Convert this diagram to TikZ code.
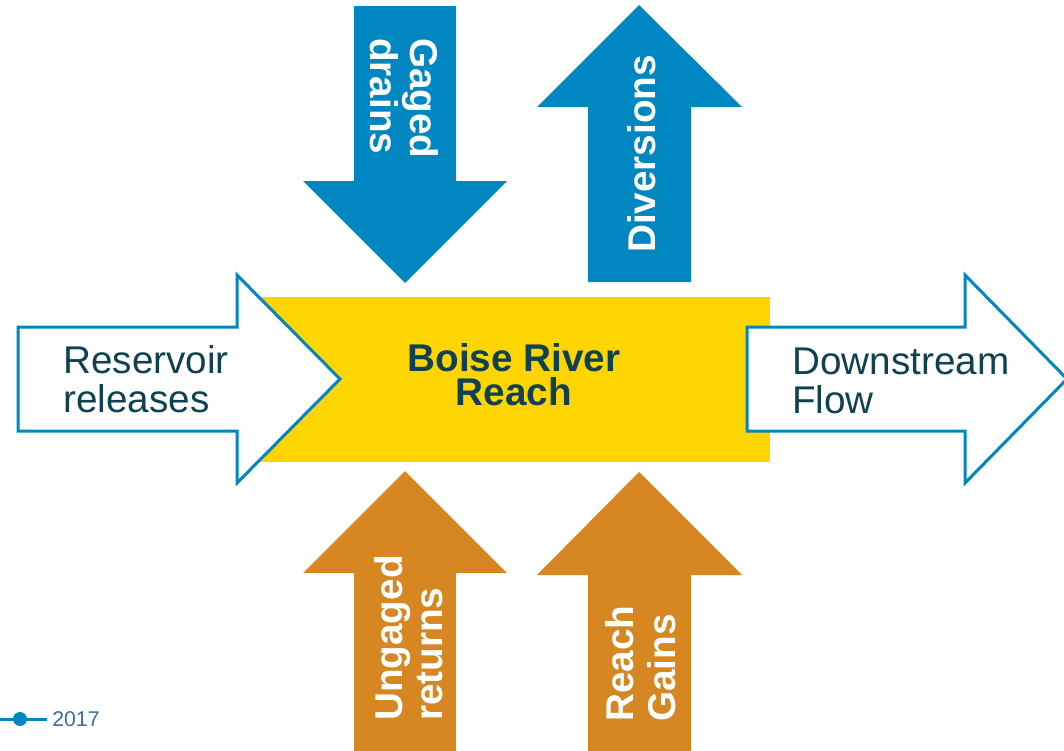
\documentclass[tikz,border=0pt]{standalone}
\usepackage{fontspec}
\setmainfont{Liberation Sans}
\definecolor{flowblue}{HTML}{0087C1}
\definecolor{floworange}{HTML}{D68721}
\definecolor{reachyellow}{HTML}{FFD500}
\definecolor{darkteal}{HTML}{0F4151}
\definecolor{legendblue}{HTML}{3B6EA5}
\begin{document}
\begin{tikzpicture}[x=0.75pt,y=-0.75pt,
  outflow/.style={draw=flowblue,line width=2.25pt,fill=white,line join=miter},
  bluearrow/.style={fill=flowblue},
  orangearrow/.style={fill=floworange},
  plainlabel/.style={inner sep=0pt,align=left,text=darkteal,
    font=\fontsize{29}{29}\selectfont},
  arrowlabel/.style={inner sep=0pt,align=left,text=white,
    font=\fontsize{29}{30}\selectfont\bfseries},
  reachlabel/.style={inner sep=0pt,align=center,text=darkteal,
    font=\fontsize{29}{25}\selectfont\bfseries}]
\useasboundingbox (0,0) rectangle (1064,750);

% central reach block
\fill[reachyellow] (260,297) rectangle (770,462);

% inflow from the reservoir (left) and outflow downstream (right)
\path[outflow] (18,327) -- (237,327) -- (237,275) -- (340,379) -- (237,483)
  -- (237,431) -- (18,431) -- cycle;
\path[outflow] (747,327) -- (965,327) -- (965,275) -- (1067,379) -- (965,483)
  -- (965,431) -- (747,431) -- cycle;

% gaged drains entering from above
\path[bluearrow] (354,6) -- (456,6) -- (456,181) -- (507,181) -- (405,283)
  -- (303,181) -- (354,181) -- cycle;
% diversions leaving upward
\path[bluearrow] (588,282) -- (588,107) -- (537,107) -- (639,5) -- (742,107)
  -- (691,107) -- (691,282) -- cycle;
% ungaged returns from below
\path[orangearrow] (354,752) -- (354,573) -- (303,573) -- (405,471) -- (507,573)
  -- (456,573) -- (456,752) -- cycle;
% reach gains from below
\path[orangearrow] (588,752) -- (588,575) -- (537,575) -- (639,472) -- (742,575)
  -- (691,575) -- (691,752) -- cycle;

% labels (the base anchor of a two-line node sits on its last line)
\node[reachlabel,anchor=base] (reach) at (514,405) {Boise River\\Reach};
\node[plainlabel,anchor=base west] (reservoir) at (63,412) {Reservoir\\releases};
\node[plainlabel,anchor=base west] (downstream) at (792,413) {Downstream\\Flow};
\node[arrowlabel,rotate=-90,anchor=base west] (gaged) at (370,38) {Gaged\\drains};
\node[arrowlabel,rotate=90,anchor=base west] (diversions) at (655,253) {Diversions};
\node[arrowlabel,rotate=90,anchor=base west] (ungaged) at (442,721) {Ungaged\\returns};
\node[arrowlabel,rotate=90,anchor=base west,
  font=\fontsize{29}{31.5}\selectfont\bfseries] (gains) at (675,722) {Reach\\Gains};

% legend entry
\draw[flowblue,line width=2.25pt] (0,719) -- (47,719);
\fill[flowblue] (20,719) circle[radius=7];
\node[inner sep=0pt,anchor=base west,text=legendblue,
  font=\fontsize{16}{16}\selectfont] (year) at (52,726) {2017};
\end{tikzpicture}
\end{document}
